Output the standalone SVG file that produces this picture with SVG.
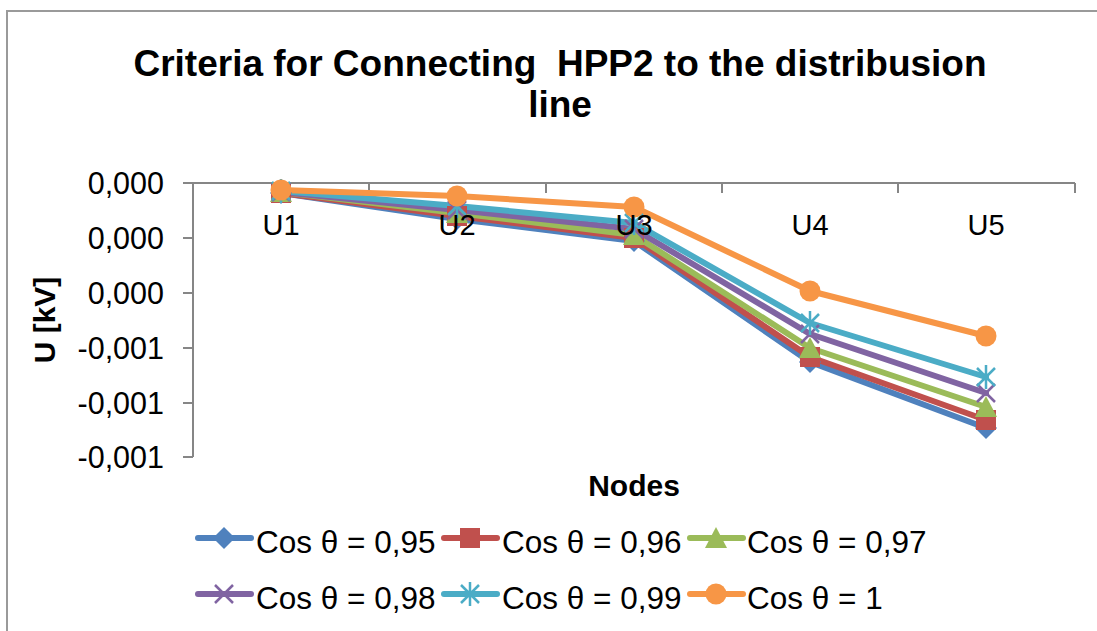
<svg xmlns="http://www.w3.org/2000/svg" width="1097" height="631" viewBox="0 0 1097 631">
<style>
text{font-family:"Liberation Sans",Arial,sans-serif;fill:#000}
.title{font-size:37px;font-weight:bold;text-anchor:middle;white-space:pre}
.ax{font-size:30px;font-weight:bold;text-anchor:middle}
.yt{font-size:30.5px;text-anchor:end}
.xt{font-size:29px;text-anchor:middle}
.lg{font-size:31.5px}
.axis{stroke:#868686;stroke-width:2;fill:none}
.s{fill:none;stroke-width:6;stroke-linejoin:round;stroke-linecap:round}
</style>
<defs>
<path id="dia" d="M0,-11 L11,0 L0,11 L-11,0 Z"/>
<rect id="sq" x="-10" y="-10" width="20" height="20"/>
<path id="tri" d="M0,-11 L11,10 L-11,10 Z"/>
<path id="xm" d="M-9,-9 L9,9 M-9,9 L9,-9" stroke-width="2.5"/>
<path id="st" d="M-9,-9 L9,9 M-9,9 L9,-9 M0,-12 L0,12" stroke-width="2.5"/>
<circle id="ci" r="10.5"/>
</defs>
<rect width="1097" height="631" fill="#fff"/>
<path d="M7,631 L7,11 L1097,11" stroke="#9a9a9a" stroke-width="2" fill="none"/>
<g id="title">
<text class="title" x="560" y="76" xml:space="preserve">Criteria for Connecting  HPP2 to the distribusion</text>
<text class="title" x="560" y="117">line</text>
</g>
<g id="axes">
<path class="axis" d="M193,183 L193,457 M183,183 L193,183 M183,238 L193,238 M183,293 L193,293 M183,348 L193,348 M183,403 L193,403 M183,457 L193,457"/>
<path class="axis" d="M193,183 L1075,183 M369,183 L369,193 M546,183 L546,193 M722,183 L722,193 M898,183 L898,193 M1075,183 L1075,193"/>
<text class="yt" x="164" y="194">0,000</text>
<text class="yt" x="164" y="249">0,000</text>
<text class="yt" x="164" y="304">0,000</text>
<text class="yt" x="164" y="359">-0,001</text>
<text class="yt" x="164" y="414">-0,001</text>
<text class="yt" x="164" y="468">-0,001</text>
<text class="ax" transform="translate(55,320) rotate(-90)">U [kV]</text>
<text class="ax" x="634" y="496">Nodes</text>
</g>
<g id="connectors">
<polyline class="s" stroke="#4F81BD" points="281,193 457,219 634,241 810,362 986,428"/>
<polyline class="s" stroke="#C0504D" points="281,193 457,216 634,238 810,357 986,420"/>
<polyline class="s" stroke="#9BBB59" points="281,192 457,213 634,235 810,348 986,407"/>
<polyline class="s" stroke="#8064A2" points="281,192 457,210 634,229 810,334 986,393"/>
<polyline class="s" stroke="#4BACC6" points="281,191 457,206 634,223 810,323 986,377"/>
<polyline class="s" stroke="#F79646" points="281,190 457,196 634,207 810,291 986,336"/>
</g>
<g id="series-095" fill="#4F81BD">
<use href="#dia" x="281" y="193"/><use href="#dia" x="457" y="219"/><use href="#dia" x="634" y="241"/><use href="#dia" x="810" y="362"/><use href="#dia" x="986" y="428"/>
</g>
<g id="series-096" fill="#C0504D">
<use href="#sq" x="281" y="193"/><use href="#sq" x="457" y="216"/><use href="#sq" x="634" y="238"/><use href="#sq" x="810" y="357"/><use href="#sq" x="986" y="420"/>
</g>
<g id="series-097" fill="#9BBB59">
<use href="#tri" x="281" y="192"/><use href="#tri" x="457" y="213"/><use href="#tri" x="634" y="235"/><use href="#tri" x="810" y="348"/><use href="#tri" x="986" y="407"/>
</g>
<g id="series-098" stroke="#8064A2" fill="none">
<use href="#xm" x="281" y="192"/><use href="#xm" x="457" y="210"/><use href="#xm" x="634" y="229"/><use href="#xm" x="810" y="334"/><use href="#xm" x="986" y="393"/>
</g>
<g id="series-099" stroke="#4BACC6" fill="none">
<use href="#st" x="281" y="191"/><use href="#st" x="457" y="206"/><use href="#st" x="634" y="223"/><use href="#st" x="810" y="323"/><use href="#st" x="986" y="377"/>
</g>
<g id="series-1" fill="#F79646">
<use href="#ci" x="281" y="190"/><use href="#ci" x="457" y="196"/><use href="#ci" x="634" y="207"/><use href="#ci" x="810" y="291"/><use href="#ci" x="986" y="336"/>
</g>
<g id="category-labels">
<text class="xt" x="281" y="235">U1</text>
<text class="xt" x="457" y="235">U2</text>
<text class="xt" x="634" y="235">U3</text>
<text class="xt" x="810" y="235">U4</text>
<text class="xt" x="986" y="235">U5</text>
</g>
<g id="legend">
<line class="s" stroke="#4F81BD" x1="198" y1="538" x2="251" y2="538"/>
<use href="#dia" x="224" y="538" fill="#4F81BD"/>
<text class="lg" x="256" y="553">Cos θ = 0,95</text>
<line class="s" stroke="#C0504D" x1="444" y1="538" x2="497" y2="538"/>
<use href="#sq" x="470" y="538" fill="#C0504D"/>
<text class="lg" x="502" y="553">Cos θ = 0,96</text>
<line class="s" stroke="#9BBB59" x1="690" y1="538" x2="743" y2="538"/>
<use href="#tri" x="716" y="538" fill="#9BBB59"/>
<text class="lg" x="747" y="553">Cos θ = 0,97</text>
<line class="s" stroke="#8064A2" x1="198" y1="594" x2="251" y2="594"/>
<use href="#xm" x="224" y="594" stroke="#8064A2"/>
<text class="lg" x="256" y="609">Cos θ = 0,98</text>
<line class="s" stroke="#4BACC6" x1="444" y1="594" x2="497" y2="594"/>
<use href="#st" x="470" y="594" stroke="#4BACC6"/>
<text class="lg" x="502" y="609">Cos θ = 0,99</text>
<line class="s" stroke="#F79646" x1="690" y1="594" x2="743" y2="594"/>
<use href="#ci" x="716" y="594" fill="#F79646"/>
<text class="lg" x="747" y="609">Cos θ = 1</text>
</g>
</svg>
